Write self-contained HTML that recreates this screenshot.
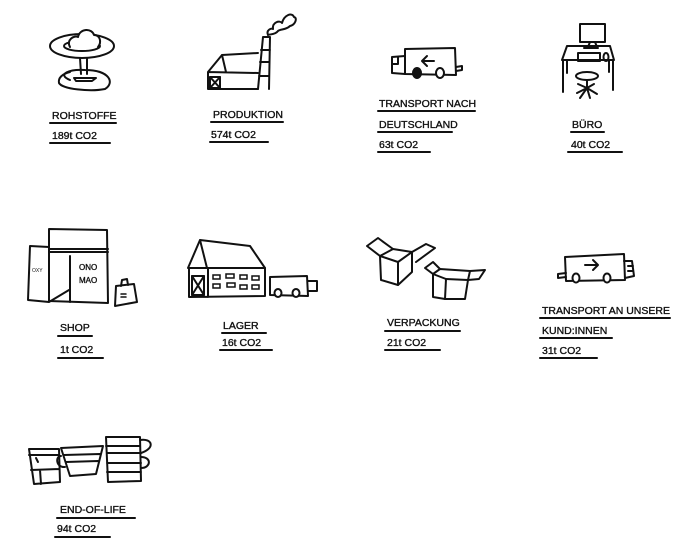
<!DOCTYPE html>
<html><head><meta charset="utf-8"><style>
html,body{margin:0;padding:0;background:#fff;width:700px;height:560px;overflow:hidden}
svg{display:block}
text{font-family:"Liberation Sans",sans-serif;font-size:10.5px;fill:#111;stroke:#111;stroke-width:0.35px;letter-spacing:0px}
.s{fill:none;stroke:#111;stroke-width:2;stroke-linejoin:round;stroke-linecap:round}
.t{fill:none;stroke:#111;stroke-width:1.5;stroke-linecap:round}
.u{stroke:#111;stroke-width:2;stroke-linecap:round}
</style></head><body>
<svg width="700" height="560" viewBox="0 0 700 560">
<!-- Rohstoffe -->
<g class="s">
<ellipse cx="82" cy="46" rx="32" ry="12"/>
<ellipse cx="82" cy="46" rx="18" ry="5"/>
<path d="M70 47 C66 40 74 35 78 37 C80 28 92 28 94 35 C100 35 102 42 98 47" fill="#fff"/>
<path d="M80 58 L81 74 M87 58 L87 74"/>
<path d="M70 80 C56 74 70 69 85 70 C110 70 115 83 105 89 C90 92 62 89 59 83 C58 78 62 74 70 72"/>
<path d="M74 78 L96 78 L92 81 L76 81Z"/>
</g>
<text x="52" y="119">ROHSTOFFE</text><line class="u" x1="50" y1="123" x2="116" y2="123"/>
<text x="52" y="139">189t CO2</text><line class="u" x1="50" y1="143" x2="110" y2="143"/>
<!-- Produktion -->
<g class="s">
<path d="M208 89 L208 72 L222 55 L258 53 M208 72 L258 73 M222 55 L226 72 M208 89 L258 89"/>
<rect x="210" y="77" width="10" height="11"/>
<path d="M210 77 L220 88 M220 77 L210 88"/>
<path d="M258 89 L263 37 L270 37 L269 89 M261 50 L270 50 M260 62 L269 62 M259 76 L269 76"/>
<path d="M268 35 C266 30 271 28 273 29 C272 22 280 20 282 23 C284 15 292 12 294 17 C298 18 295 25 290 26 C286 30 280 29 278 31 C275 35 270 34 268 35"/>
</g>
<text x="213" y="118">PRODUKTION</text><line class="u" x1="211" y1="122" x2="283" y2="122"/>
<text x="211" y="138">574t CO2</text><line class="u" x1="210" y1="142" x2="268" y2="142"/>
<!-- Transport nach -->
<g class="s">
<path d="M405 74 L405 49 L455 48 L456 75 L405 74"/>
<path d="M405 56 L392 57 L392 73 L405 74 M392 64 L398 64 L398 57"/>
<path d="M456 67 L462 66 L462 70 L456 71"/>
<ellipse cx="417" cy="73" rx="4" ry="5" fill="#111"/>
<ellipse cx="440" cy="73" rx="4" ry="5" fill="#fff"/>
<path d="M422 61 L434 61 M427 56 L422 61 L427 66"/>
</g>
<text x="379" y="107">TRANSPORT NACH</text><line class="u" x1="378" y1="111" x2="475" y2="111"/>
<text x="379" y="128">DEUTSCHLAND</text><line class="u" x1="378" y1="132" x2="452" y2="132"/>
<text x="379" y="148">63t CO2</text><line class="u" x1="378" y1="152" x2="430" y2="152"/>
<!-- Buero -->
<g class="s">
<rect x="580" y="24" width="25" height="18"/>
<path d="M590 42 L588 47 M595 42 L597 47 M584 48 L598 48"/>
<path d="M562 60 L567 46 L610 46 L614 60 L562 60 M563 60 L563 92 M567 60 L567 73 M613 60 L613 90 M609 60 L609 72"/>
<rect x="578" y="53" width="22" height="8"/>
<ellipse cx="606" cy="57" rx="2.5" ry="4"/>
<ellipse cx="587" cy="76" rx="11" ry="4"/>
<path d="M587 80 L587 88 M587 88 L577 93 M587 88 L580 98 M587 88 L590 98 M587 88 L597 94 M587 88 L594 84 M587 88 L578 84"/>
</g>
<text x="572" y="128">BÜRO</text><line class="u" x1="571" y1="132" x2="604" y2="132"/>
<text x="571" y="148">40t CO2</text><line class="u" x1="568" y1="152" x2="622" y2="152"/>
<!-- Shop -->
<g class="s">
<path d="M49 229 L107 230 L108 303 L49 301 Z"/>
<path d="M49 249 L108 249 M49 252 L108 252 M70 256 L70 302"/>
<path d="M49 247 L30 246 L28 300 L49 302 M49 302 L69 290"/>
<path d="M116 286 L134 284 L137 302 L115 306 Z M121 286 L122 280 L127 279 L128 285"/>
<path d="M121 294 L126 294 M121 297 L126 297" class="t"/>
</g>
<text x="79" y="270" style="font-size:8px">ONO</text>
<text x="79" y="283" style="font-size:8px">MAO</text>
<text x="32" y="272" style="font-size:5px;stroke-width:0">OXY</text>
<text x="60" y="331">SHOP</text><line class="u" x1="58" y1="336" x2="92" y2="336"/>
<text x="60" y="353">1t CO2</text><line class="u" x1="58" y1="358" x2="103" y2="358"/>
<!-- Lager -->
<g class="s">
<path d="M188 268 L200 240 L250 246 L265 268 Z M200 240 L207 268"/>
<path d="M189 268 L189 297 L265 296 L265 268 M208 268 L208 297"/>
<rect x="192" y="276" width="12" height="19"/>
<path d="M192 276 L204 295 M204 276 L192 295"/>
<path d="M270 277 L307 276 L308 296 L270 295 Z M308 281 L317 281 L317 291 L308 291"/>
<ellipse cx="278" cy="293" rx="3.5" ry="4" fill="#fff"/>
<ellipse cx="296" cy="293" rx="3.5" ry="4" fill="#fff"/>
</g>
<g class="t">
<rect x="213" y="275" width="7" height="4"/><rect x="226" y="274" width="8" height="4"/><rect x="240" y="275" width="7" height="4"/><rect x="252" y="276" width="7" height="4"/>
<rect x="213" y="284" width="7" height="4"/><rect x="227" y="283" width="8" height="4"/><rect x="240" y="285" width="7" height="4"/><rect x="252" y="285" width="7" height="4"/>
</g>
<text x="223" y="329">LAGER</text><line class="u" x1="222" y1="333" x2="266" y2="333"/>
<text x="222" y="346">16t CO2</text><line class="u" x1="220" y1="350" x2="272" y2="350"/>
<!-- Verpackung -->
<g class="s">
<path d="M380 256 L398 262 L398 285 L381 280 Z"/>
<path d="M398 262 L412 252 L412 272 L398 285"/>
<path d="M380 256 L393 249 L412 252"/>
<path d="M380 256 L367 246 L378 238 L393 249"/>
<path d="M412 252 L426 244 L435 248 L416 262"/>
<path d="M433 274 L446 279 L445 299 L433 297 Z"/>
<path d="M446 279 L468 280 L465 299 L445 299"/>
<path d="M433 274 L440 269 L470 271 L468 280"/>
<path d="M433 274 L425 268 L433 262 L440 269"/>
<path d="M470 271 L485 270 L479 279 L468 280"/>
</g>
<text x="387" y="326">VERPACKUNG</text><line class="u" x1="385" y1="331" x2="460" y2="331"/>
<text x="387" y="346">21t CO2</text><line class="u" x1="385" y1="350" x2="440" y2="350"/>
<!-- Transport an -->
<g class="s">
<path d="M565 257 L624 254 L625 280 L566 281 Z"/>
<path d="M624 261 L632 261 L634 276 L625 278 M628 266 L633 266 M628 271 L633 271"/>
<path d="M566 273 L558 274 L558 278 L566 277"/>
<ellipse cx="576" cy="278" rx="3.5" ry="4.5" fill="#fff"/>
<ellipse cx="607" cy="278" rx="3.5" ry="4.5" fill="#fff"/>
<path d="M585 265 L598 265 M593 260 L598 265 L593 270"/>
</g>
<text x="542" y="314">TRANSPORT AN UNSERE</text><line class="u" x1="540" y1="318" x2="670" y2="318"/>
<text x="542" y="334">KUND:INNEN</text><line class="u" x1="540" y1="338" x2="612" y2="338"/>
<text x="542" y="354">31t CO2</text><line class="u" x1="540" y1="358" x2="597" y2="358"/>
<!-- End of life -->
<g class="s">
<path d="M29 449 L59 449 L60 482 L34 484 Z M29 455 L59 455 M31 470 L59 469 M40 470 L41 484 M36 458 L38 462"/>
<path d="M61 448 L103 446 L96 474 L70 476 Z M64 455 L100 454 M66 462 L98 461 M61 456 C55 456 56 468 65 467"/>
<path d="M106 437 L140 437 L141 481 L108 482 Z M106 446 L140 446 M107 453 L141 453 M107 463 L141 463 M107 472 L141 472"/>
<path d="M140 440 C152 438 156 448 141 453 M141 457 C152 457 151 468 141 468"/>
</g>
<text x="60" y="513">END-OF-LIFE</text><line class="u" x1="57" y1="518" x2="135" y2="518"/>
<text x="57" y="532">94t CO2</text><line class="u" x1="55" y1="537" x2="110" y2="537"/>
</svg>
</body></html>
